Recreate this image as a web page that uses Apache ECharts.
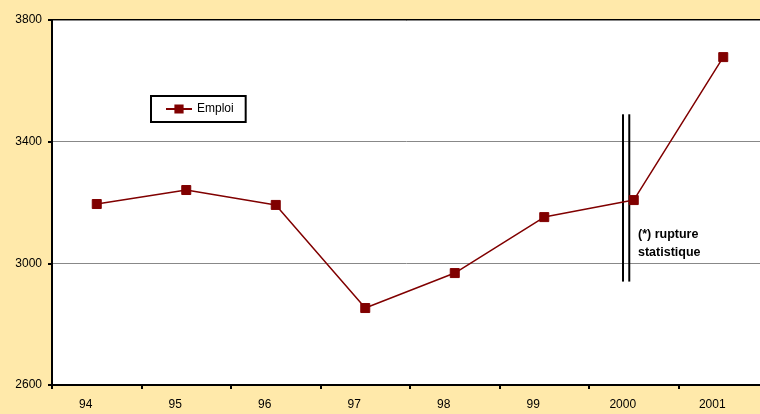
<!DOCTYPE html>
<html>
<head>
<meta charset="utf-8">
<script src="https://cdn.jsdelivr.net/npm/echarts@6/dist/echarts.min.js"></script>
<style>
	html, body { margin: 0; padding: 0; background: #FFE9AA; }
	#main { width: 760px; height: 414px; }
</style>
</head>
<body>
<div id="main"></div>
<script type="text/javascript">
	// categories and values
	var annees = ['94', '95', '96', '97', '98', '99', '2000', '2001'];
	var emploi = [3195, 3241, 3192, 2853, 2968, 3152, 3208, 3678];
	// rupture statistique : double trait vertical (position sur axe 0..8, bornes en valeur)
	var ruptureX = [6.38, 6.45];
	var ruptureY = [3490, 2940];

	var myChart = echarts.init(document.getElementById('main'));
	var ruptureSeries = ruptureX.map(function (x) {
		return {
			type: 'line',
			xAxisIndex: 1,
			symbol: 'none',
			silent: true,
			lineStyle: { color: '#000', width: 2 },
			data: [[x, ruptureY[0]], [x, ruptureY[1]]]
		};
	});

	myChart.setOption({
		backgroundColor: '#FFE9AA',
		animation: false,
		textStyle: { fontFamily: 'Liberation Sans, Arial, sans-serif' },
		grid: {
			left: 52, top: 20, width: 716, bottom: 29,
			outerBoundsMode: 'none',
			containLabel: false,
			show: true,
			backgroundColor: '#fff',
			borderColor: '#000',
			borderWidth: 2
		},
		legend: {
			left: 151, top: 96,
			padding: [7, 12, 7, 14],
			backgroundColor: '#fff',
			borderColor: '#000',
			borderWidth: 2,
			itemWidth: 26, itemHeight: 9,
			itemGap: 4,
			textStyle: { color: '#000', fontSize: 12 },
			data: ['Emploi']
		},
		xAxis: [{
			type: 'category',
			data: annees,
			boundaryGap: true,
			axisLine: { lineStyle: { color: '#000', width: 2 } },
			axisTick: { show: true, length: 4, lineStyle: { color: '#000', width: 2 } },
			axisLabel: { color: '#000', fontSize: 12, margin: 14, padding: [0, 22, 0, 0] },
			splitLine: { show: false }
		}, {
			type: 'value',
			min: 0, max: 8,
			show: false
		}],
		yAxis: {
			type: 'value',
			min: 2600, max: 3800, interval: 400,
			axisLine: { show: true, lineStyle: { color: '#000', width: 2 } },
			axisTick: { show: true, length: 4, lineStyle: { color: '#000', width: 2 } },
			axisLabel: {
				color: '#000', fontSize: 12, margin: 10,
				formatter: function (v) { return String(v); }
			},
			splitLine: { show: true, lineStyle: { color: '#888', width: 1 } }
		},
		series: [{
			name: 'Emploi',
			type: 'line',
			data: emploi,
			symbol: 'rect',
			symbolSize: 9,
			lineStyle: { color: '#800000', width: 1.5 },
			itemStyle: { color: '#800000', borderColor: '#800000', borderWidth: 1 },
			z: 5
		}].concat(ruptureSeries),
		graphic: [{
			type: 'text',
			left: 638, top: 226,
			style: {
				text: '(*) rupture\nstatistique',
				fill: '#000',
				font: 'bold 12.5px Liberation Sans, Arial, sans-serif',
				lineHeight: 18
			}
		}]
	});
	window.onresize = myChart.resize;
</script>
</body>
</html>
